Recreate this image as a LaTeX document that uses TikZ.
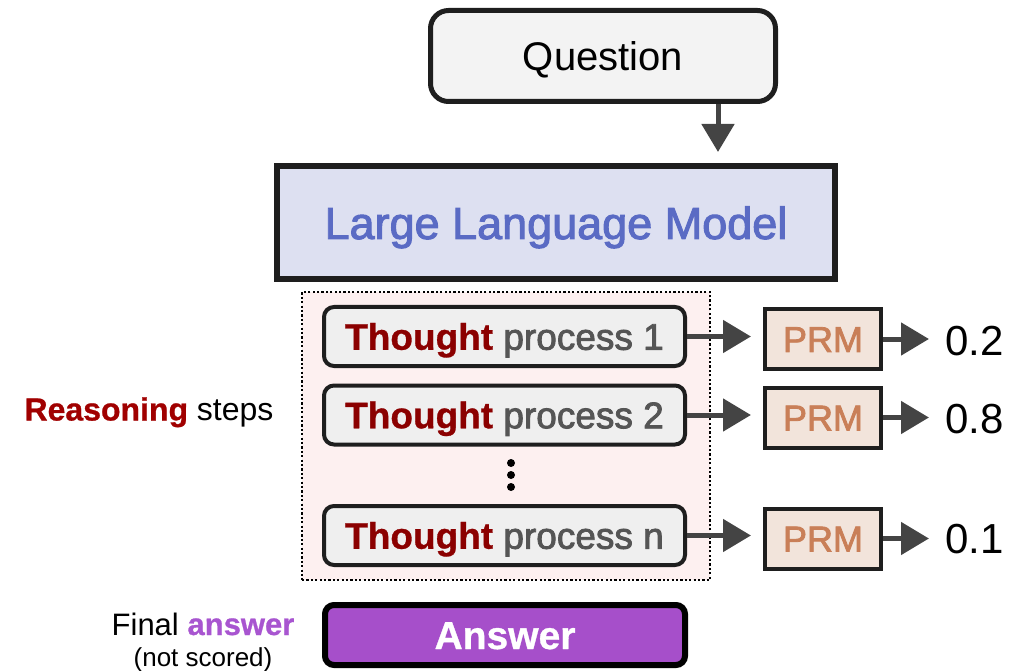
\documentclass[tikz,border=0pt]{standalone}
\usepackage{fontspec}
\setmainfont{Liberation Sans}
\newfontfamily\medfont[FakeBold=2.2]{Liberation Sans}
\newfontfamily\heavyfont[FakeBold=0.8]{Liberation Sans Bold}
\usetikzlibrary{arrows.meta}

\definecolor{qfill}{HTML}{F3F3F3}
\definecolor{llmfill}{HTML}{DDE0F1}
\definecolor{llmtext}{HTML}{5A6BC4}
\definecolor{regionfill}{HTML}{FDF0F0}
\definecolor{tfill}{HTML}{EFEFEF}
\definecolor{thoughtred}{HTML}{8B0000}
\definecolor{procgray}{HTML}{555555}
\definecolor{prmfill}{HTML}{F2E4DB}
\definecolor{prmtext}{HTML}{C97F58}
\definecolor{arrgray}{HTML}{444444}
\definecolor{reasonred}{HTML}{A00000}
\definecolor{anspurple}{HTML}{A855D0}
\definecolor{ansfill}{HTML}{A64FCA}
\definecolor{edge}{HTML}{1E1E1E}

\newcommand{\fsz}[1]{\fontsize{#1}{#1}\selectfont}

\tikzset{
  qbox/.style={draw=edge, line width=5pt, fill=qfill, rounded corners=18pt,
    minimum width=345pt, minimum height=91pt, inner sep=0pt,
    font=\fsz{40}, text height=29pt, text depth=0pt},
  llmbox/.style={draw=edge, line width=6pt, fill=llmfill,
    minimum width=558pt, minimum height=113pt, inner sep=0pt,
    font=\medfont\fsz{45}, text=llmtext, text height=33pt, text depth=0pt},
  region/.style={draw=black, line width=1.6pt, dash pattern=on 2.2pt off 2.2pt,
    fill=regionfill, minimum width=408pt, minimum height=288pt, inner sep=0pt},
  tbox/.style={draw=edge, line width=4pt, fill=tfill, rounded corners=10pt,
    minimum width=361pt, minimum height=59pt, inner sep=0pt,
    font=\fsz{37}, text=procgray, text height=26.5pt, text depth=0pt},
  prmbox/.style={draw=edge, line width=4pt, fill=prmfill,
    minimum width=116pt, minimum height=60pt, inner sep=0pt,
    font=\medfont\fsz{36}, text=prmtext, text height=26pt, text depth=0pt},
  score/.style={anchor=west, inner sep=0pt, font=\fsz{42},
    text height=30pt, text depth=0pt},
  ansbox/.style={draw=black, line width=6pt, fill=ansfill, rounded corners=9pt,
    minimum width=360pt, minimum height=60pt, inner sep=0pt,
    font=\heavyfont\fsz{39}, text=white, text height=28pt, text depth=0pt},
  dot/.style={circle, fill=black, inner sep=0pt, minimum size=8pt},
  arr/.style={draw=arrgray, line width=5pt, -{Triangle[length=28pt,width=32pt]}},
}

\newcommand{\thought}[1]{{\heavyfont\color{thoughtred}Thought} {\medfont process #1}}

\begin{document}
\begin{tikzpicture}[x=1pt, y=-1pt]
\useasboundingbox (0,0) rectangle (1018,671);

% input and model
\node[qbox] (Q) at (603,56) {Question};
\node[llmbox] (LLM) at (556,222.5) {Large Language Model};
\coordinate (qa) at (718,0);
\draw[arr, shorten >=11pt] (Q.south -| qa) -- (LLM.north -| qa);

% reasoning steps
\node[region] (R) at (506,436) {};
\node[tbox] (T1) at (504.5,336.5) {\thought{1}};
\node[tbox] (T2) at (504.5,415) {\thought{2}};
\node[tbox] (T3) at (504.5,535.5) {\thought{n}};
\node[dot] (d1) at (511,463) {};
\node[dot] (d2) at (511,475) {};
\node[dot] (d3) at (511,487) {};

% process reward model scores
\node[prmbox] (P1) at (823,339) {PRM};
\node[prmbox] (P2) at (823,417.5) {PRM};
\node[prmbox] (P3) at (823,538.5) {PRM};
\node[score] (S1) at (945,340) {0.2};
\node[score] (S2) at (945,418.5) {0.8};
\node[score] (S3) at (945,538.5) {0.1};

\foreach \i in {1,2,3}{
  \draw[arr, shorten >=12pt] (T\i.east) -- (T\i.east -| P\i.west);
  \draw[arr, shorten >=16pt] (P\i.east) -- (P\i.east -| S\i.west);
}

% side labels
\node[inner sep=0pt, font=\fsz{32}, text height=23pt, text depth=0pt] (RS) at (149,409)
  {{\heavyfont\color{reasonred}Reasoning} steps};
\node[inner sep=0pt, font=\fsz{31}, text height=22pt, text depth=0pt] (FA) at (203,624)
  {Final {\heavyfont\color{anspurple}answer}};
\node[inner sep=0pt, font=\fsz{26}, text height=19pt, text depth=0pt] (NS) at (203,657)
  {(not scored)};

% final answer
\node[ansbox] (A) at (505,635) {Answer};
\end{tikzpicture}
\end{document}
